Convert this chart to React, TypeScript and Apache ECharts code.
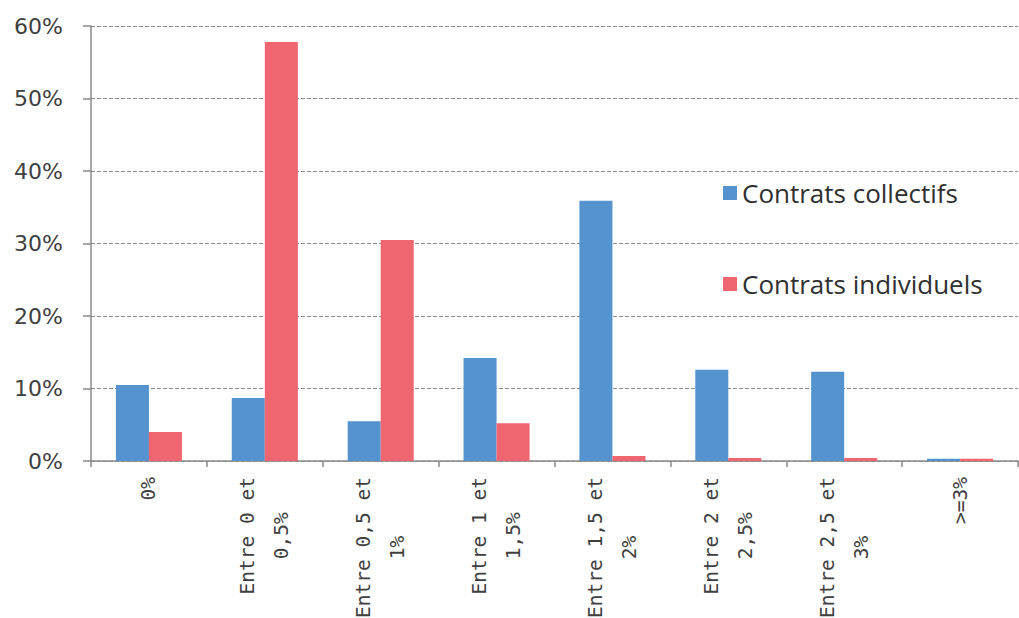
import React, { useEffect, useRef } from "react";
import * as echarts from "echarts";

const categories = [
  "0%",
  "Entre 0 et\n0,5%",
  "Entre 0,5 et\n1%",
  "Entre 1 et\n1,5%",
  "Entre 1,5 et\n2%",
  "Entre 2 et\n2,5%",
  "Entre 2,5 et\n3%",
  ">=3%",
];
const collectifs = [10.5, 8.7, 5.5, 14.2, 35.9, 12.6, 12.3, 0.3];
const individuels = [4.0, 57.8, 30.5, 5.2, 0.7, 0.4, 0.4, 0.3];
const seriesNames = ["Contrats collectifs", "Contrats individuels"];
const yTicks = { min: 0, max: 60, interval: 10 };

export default function App() {
  const ref = useRef<HTMLDivElement>(null);
  useEffect(() => {
    if (!ref.current) return;
    const chart = echarts.init(ref.current, null, { renderer: "svg" });
    const axisColor = "#8a8a8a";
    const labelColor = "#404040";
    chart.setOption({
      animation: false,
      backgroundColor: "#ffffff",
      grid: {
        left: 91,
        right: 1,
        top: 26,
        bottom: 157,
        containLabel: false,
        outerBoundsMode: "none",
      },
      legend: {
        orient: "vertical",
        left: 718,
        top: 175,
        itemWidth: 14,
        itemHeight: 14,
        itemGap: 65,
        icon: "rect",
        textStyle: { fontFamily: "Open Sans", fontSize: 26, color: "#303030", padding: [0, 0, 0, 0] },
        data: seriesNames,
      },
      xAxis: {
        type: "category",
        data: categories,
        boundaryGap: true,
        axisLine: { show: true, lineStyle: { color: axisColor, width: 1.5 } },
        axisTick: { show: true, interval: 0, length: 6, lineStyle: { color: axisColor, width: 1.5 } },
        axisLabel: {
          interval: 0,
          rotate: 90,
          margin: 16,
          hideOverlap: false,
          formatter: (v: string) =>
            v
              .split("\n")
              .map((s) => `{c|${s}}`)
              .join("\n"),
          rich: {
            c: {
              align: "center",
              fontFamily: "DejaVu Sans Mono",
              fontSize: 19.5,
              lineHeight: 34,
              color: labelColor,
            },
          },
        },
      },
      yAxis: {
        type: "value",
        min: yTicks.min,
        max: yTicks.max,
        interval: yTicks.interval,
        axisLine: { show: true, lineStyle: { color: axisColor, width: 1.5 } },
        axisTick: { show: true, length: 8, lineStyle: { color: axisColor, width: 1.5 } },
        axisLabel: {
          formatter: "{value}%",
          margin: 28,
          fontFamily: "DejaVu Sans",
          fontSize: 22,
          color: labelColor,
        },
        splitLine: { show: true, lineStyle: { color: "#8c8c8c", type: [4, 2], width: 1.2 } },
      },
      series: [
        {
          name: seriesNames[0],
          type: "bar",
          data: collectifs,
          barGap: "0%",
          barCategoryGap: "43%",
          itemStyle: { color: "#5593CE" },
        },
        {
          name: seriesNames[1],
          type: "bar",
          data: individuels,
          barGap: "0%",
          barCategoryGap: "43%",
          itemStyle: { color: "#EF6670" },
        },
      ],
    });
    return () => chart.dispose();
  }, []);
  return (
    <div
      ref={ref}
      style={{ position: "fixed", left: 0, top: 0, width: 1019, height: 618, background: "#fff" }}
    />
  );
}
